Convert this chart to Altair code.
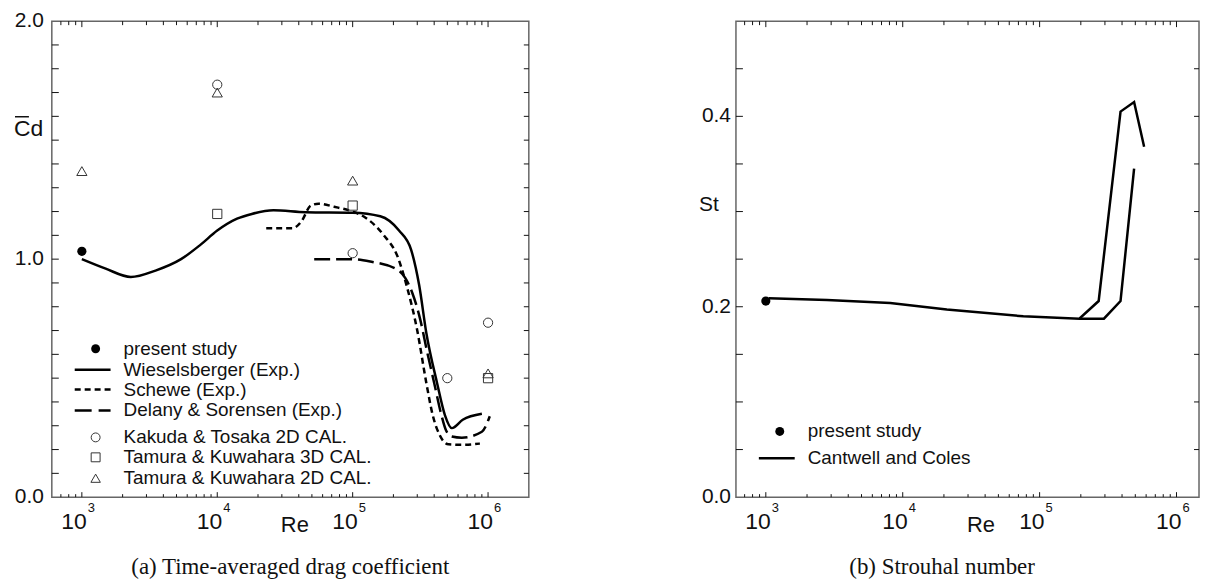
import altair as alt
import pandas as pd

# ---------------- panel (a): time-averaged drag coefficient ----------------
present_a_re = [1000]
present_a_cd = [1.033]

wies_re = [1000, 1500, 2300, 3500, 5400, 7500, 10000, 14000, 18000, 26000, 45000,
           100000, 160000, 220000, 270000, 310000, 350000, 420000, 480000, 540000,
           650000, 900000]
wies_cd = [1.00, 0.96, 0.925, 0.952, 1.00, 1.06, 1.12, 1.17, 1.19, 1.205, 1.197,
           1.195, 1.18, 1.12, 1.04, 0.89, 0.69, 0.48, 0.345, 0.29, 0.325, 0.35]

schewe_re = [23000, 36000, 42000, 49000, 56000, 73000, 100000, 120000, 170000,
             215000, 250000, 300000, 350000, 390000, 440000, 510000, 650000, 870000]
schewe_cd = [1.13, 1.13, 1.16, 1.225, 1.233, 1.22, 1.20, 1.18, 1.10, 1.01, 0.89,
             0.70, 0.48, 0.345, 0.26, 0.222, 0.22, 0.225]

delany_re = [52000, 100000, 135000, 215000, 245000, 275000, 316000, 355000,
             400000, 450000, 490000, 540000, 640000, 900000, 1030000]
delany_cd = [1.00, 1.00, 0.99, 0.955, 0.92, 0.86, 0.745, 0.61, 0.48, 0.35, 0.28,
             0.255, 0.25, 0.275, 0.34]

kakuda_re = [10000, 100000, 500000, 1000000]
kakuda_cd = [1.733, 1.025, 0.50, 0.733]

tamura3d_re = [10000, 100000, 1000000]
tamura3d_cd = [1.19, 1.225, 0.50]

tamura2d_re = [1000, 10000, 100000, 1000000]
tamura2d_cd = [1.37, 1.70, 1.33, 0.52]

legend_a = ["present study", "Wieselsberger (Exp.)", "Schewe (Exp.)",
            "Delany & Sorensen (Exp.)", "Kakuda & Tosaka 2D CAL.",
            "Tamura & Kuwahara 3D CAL.", "Tamura & Kuwahara 2D CAL."]

# ---------------- panel (b): Strouhal number ----------------
present_b_re = [1000]
present_b_st = [0.206]

cc_a_re = [1050, 2800, 8100, 21000, 76000, 195000, 270000, 390000, 490000, 580000]
cc_a_st = [0.209, 0.207, 0.204, 0.197, 0.190, 0.1875, 0.206, 0.405, 0.415, 0.368]
cc_b_re = [195000, 295000, 390000, 490000]
cc_b_st = [0.1875, 0.1875, 0.206, 0.345]

legend_b = ["present study", "Cantwell and Coles"]

# ---------------- axis definitions ----------------
decades = [1000, 10000, 100000, 1000000]
decade_exp = ["3", "4", "5", "6"]
ylab_a = [0.0, 1.0, 2.0]
ylab_b = [0.0, 0.2, 0.4]
caption_a = "(a) Time-averaged drag coefficient"
caption_b = "(b) Strouhal number"

FONT = "Liberation Sans"
SERIF = "Liberation Serif"
INK = "#111111"
W1, W2, H = 479, 465, 478

xs1 = alt.Scale(type="log", domain=[600, 2.0e6], nice=False)
ys1 = alt.Scale(domain=[0, 2], nice=False, zero=False)
xs2 = alt.Scale(type="log", domain=[605, 1.46e6], nice=False)
ys2 = alt.Scale(domain=[0, 0.5], nice=False, zero=False)


def frame(xs, ys, lo, hi, ystep, ymax, width, ylabels, lab_pad, xname, re_x):
    major = [d for d in decades if lo < d < hi]
    minor = [m * 10.0 ** k for k in range(2, 7) for m in range(2, 10)
             if lo < m * 10.0 ** k < hi]
    n = int(round(ymax / ystep))
    yticks = [round(i * ystep, 4) for i in range(1, n)]
    layers = []
    for vals, L in ((major, 5), (minor, 3)):
        b = alt.Chart(pd.DataFrame({"v": vals})).mark_rule(color=INK, strokeWidth=1)
        layers.append(b.encode(x=alt.X("v:Q", scale=xs, axis=None),
                               y=alt.value(H), y2=alt.value(H - L)))
        layers.append(b.encode(x=alt.X("v:Q", scale=xs, axis=None),
                               y=alt.value(0), y2=alt.value(L + 1)))
    b = alt.Chart(pd.DataFrame({"v": yticks})).mark_rule(color=INK, strokeWidth=1)
    layers.append(b.encode(y=alt.Y("v:Q", scale=ys, axis=None),
                           x=alt.value(0), x2=alt.value(7)))
    layers.append(b.encode(y=alt.Y("v:Q", scale=ys, axis=None),
                           x=alt.value(width), x2=alt.value(width - 5)))
    # y tick labels
    yl = pd.DataFrame({"v": ylabels, "t": [f"{v:.1f}" for v in ylabels]})
    layers.append(alt.Chart(yl).mark_text(font=FONT, fontSize=21, color=INK,
                                          align="right", baseline="middle")
                  .encode(y=alt.Y("v:Q", scale=ys, axis=None),
                          x=alt.value(-lab_pad), text="t:N"))
    # x tick labels 10^n
    dl = pd.DataFrame({"v": decades, "b": ["10"] * len(decades), "e": decade_exp})
    dl = dl[(dl.v > lo) & (dl.v < hi)]
    layers.append(alt.Chart(dl).mark_text(font=FONT, fontSize=23, color=INK,
                                          align="right", baseline="alphabetic", dx=5)
                  .encode(x=alt.X("v:Q", scale=xs, axis=None),
                          y=alt.value(H + 32), text="b:N"))
    layers.append(alt.Chart(dl).mark_text(font=FONT, fontSize=13, color=INK,
                                          align="left", baseline="alphabetic", dx=6)
                  .encode(x=alt.X("v:Q", scale=xs, axis=None),
                          y=alt.value(H + 15), text="e:N"))
    # x title
    layers.append(alt.Chart(pd.DataFrame({"t": [xname]}))
                  .mark_text(font=FONT, fontSize=22, color=INK, align="left",
                             baseline="alphabetic")
                  .encode(x=alt.value(re_x), y=alt.value(H + 35), text="t:N"))
    return layers


def line(re, val, xs, ys, dash=None, yname="v"):
    df = pd.DataFrame({"Re": re, yname: val, "o": range(len(re))})
    kw = dict(color="#000000", strokeWidth=2.5, interpolate="monotone")
    if dash:
        kw["strokeDash"] = dash
    return alt.Chart(df).mark_line(**kw).encode(
        x=alt.X("Re:Q", scale=xs, axis=None),
        y=alt.Y(f"{yname}:Q", scale=ys, axis=None),
        order="o:Q")


def pts(re, val, xs, ys, shape, filled, size, yname="v"):
    df = pd.DataFrame({"Re": re, yname: val})
    return alt.Chart(df).mark_point(shape=shape, filled=filled, size=size,
                                    color="#000000" if filled else "#333333",
                                    strokeWidth=1, opacity=1).encode(
        x=alt.X("Re:Q", scale=xs, axis=None),
        y=alt.Y(f"{yname}:Q", scale=ys, axis=None))


def legend_entry(label, ypix, kind, dash=None, shape="circle", filled=False, size=80):
    df = pd.DataFrame({"t": [label]})
    out = [alt.Chart(df).mark_text(font=FONT, fontSize=19, color=INK, align="left",
                                   baseline="middle")
           .encode(x=alt.value(72), y=alt.value(ypix), text="t:N")]
    if kind == "line":
        kw = dict(color="#000000", strokeWidth=2.5)
        if dash:
            kw["strokeDash"] = dash
        out.append(alt.Chart(df).mark_rule(**kw).encode(
            x=alt.value(23), x2=alt.value(59), y=alt.value(ypix)))
    else:
        out.append(alt.Chart(df).mark_point(shape=shape, filled=filled, size=size,
                                            color="#000000" if filled else "#333333",
                                            strokeWidth=1, opacity=1)
                   .encode(x=alt.value(44), y=alt.value(ypix)))
    return out


def caption(text, xpix):
    return alt.Chart(pd.DataFrame({"t": [text]})).mark_text(
        font=SERIF, fontSize=23, color=INK, align="center", baseline="middle"
    ).encode(x=alt.value(xpix), y=alt.value(H + 70), text="t:N")


# ---------- left panel ----------
la = frame(xs1, ys1, 600, 2.0e6, 0.1, 2.0, W1, ylab_a, 8, "Re", 230)
la += [
    line(wies_re, wies_cd, xs1, ys1),
    line(schewe_re, schewe_cd, xs1, ys1, dash=[6, 4]),
    line(delany_re, delany_cd, xs1, ys1, dash=[16, 6]),
    pts(kakuda_re, kakuda_cd, xs1, ys1, "circle", False, 86),
    pts(tamura3d_re, tamura3d_cd, xs1, ys1, "square", False, 86),
    pts(tamura2d_re, tamura2d_cd, xs1, ys1, "triangle-up", False, 105),
    pts(present_a_re, present_a_cd, xs1, ys1, "circle", True, 85),
]
rows_a = [329, 350, 370, 391, 418, 438, 459]
la += legend_entry(legend_a[0], rows_a[0], "pt", shape="circle", filled=True, size=80)
la += legend_entry(legend_a[1], rows_a[1], "line")
la += legend_entry(legend_a[2], rows_a[2], "line", dash=[6, 4])
la += legend_entry(legend_a[3], rows_a[3], "line", dash=[17, 7])
la += legend_entry(legend_a[4], rows_a[4], "pt", shape="circle", size=80)
la += legend_entry(legend_a[5], rows_a[5], "pt", shape="square", size=80)
la += legend_entry(legend_a[6], rows_a[6], "pt", shape="triangle-up", size=90)
# y title: C with overbar, d
la.append(alt.Chart(pd.DataFrame({"t": ["Cd"]})).mark_text(
    font=FONT, fontSize=23, color=INK, align="left", baseline="alphabetic")
    .encode(x=alt.value(-38), y=alt.value(115), text="t:N"))
la.append(alt.Chart(pd.DataFrame({"t": ["bar"]})).mark_rule(color=INK, strokeWidth=1.5)
          .encode(x=alt.value(-37), x2=alt.value(-23), y=alt.value(96)))
la.append(caption(caption_a, W1 / 2))
left = alt.layer(*la).properties(width=W1, height=H)

# ---------- right panel ----------
lb = frame(xs2, ys2, 605, 1.46e6, 0.05, 0.5, W2, ylab_b, 5, "Re", 232)
cc = pd.DataFrame({
    "Re": cc_a_re + cc_b_re,
    "St": cc_a_st + cc_b_st,
    "branch": ["a"] * len(cc_a_re) + ["b"] * len(cc_b_re),
    "o": list(range(len(cc_a_re))) + list(range(len(cc_b_re))),
})
lb += [
    alt.Chart(cc).mark_line(color="#000000", strokeWidth=2.5).encode(
        x=alt.X("Re:Q", scale=xs2, axis=None),
        y=alt.Y("St:Q", scale=ys2, axis=None),
        detail="branch:N", order="o:Q"),
    pts(present_b_re, present_b_st, xs2, ys2, "circle", True, 85, yname="St"),
]
lb += legend_entry(legend_b[0], 412, "pt", shape="circle", filled=True, size=80)
lb += legend_entry(legend_b[1], 439, "line")
lb.append(alt.Chart(pd.DataFrame({"t": ["St"]})).mark_text(
    font=FONT, fontSize=21, color=INK, align="left", baseline="alphabetic")
    .encode(x=alt.value(-37), y=alt.value(191), text="t:N"))
lb.append(caption(caption_b, 207))
right = alt.layer(*lb).properties(width=W2, height=H)

chart = alt.HConcatChart(hconcat=[left, right], spacing=208, bounds="flush").properties(
    padding={"left": 5, "top": 0, "right": 0, "bottom": 0}
).configure_view(stroke="#666666", strokeWidth=1.5)

chart.save("out.html", embed_options={"renderer": "svg", "actions": False})
